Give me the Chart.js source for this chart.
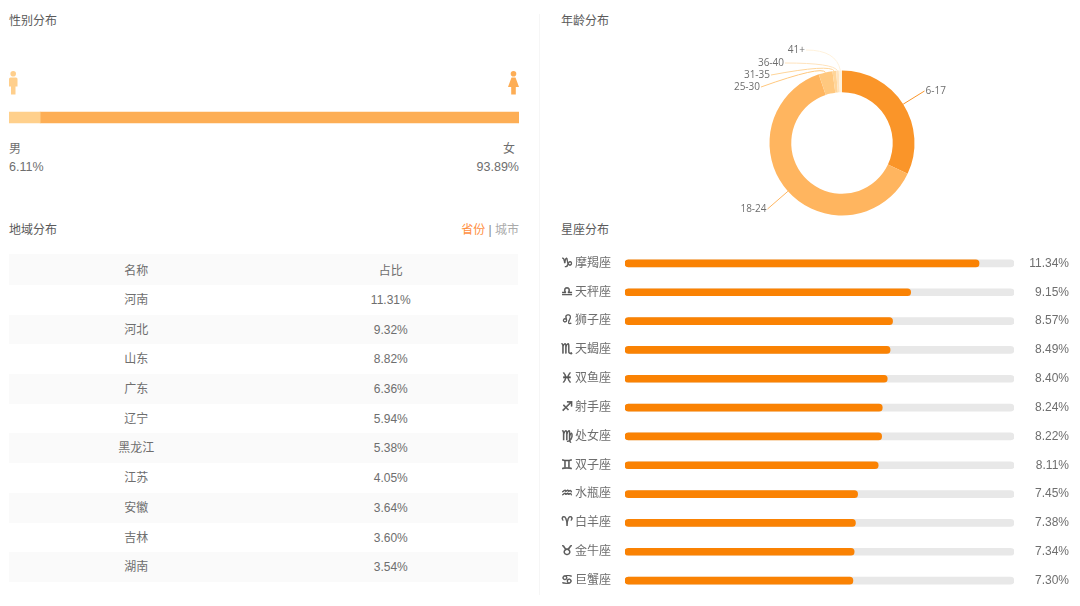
<!DOCTYPE html>
<html>
<head>
<meta charset="utf-8">
<script src="https://cdn.jsdelivr.net/npm/chart.js@4"></script>
<style>
  html, body { margin: 0; padding: 0; background: #fff; }
  body { width: 1080px; height: 606px; position: relative; overflow: hidden; color: #6e6e6e;
    font: 12px "Liberation Sans", "Noto Sans CJK SC", sans-serif; }
  .abs { position: absolute; }
  .title { color: #5a5a5a; line-height: 16px; }
  canvas { position: absolute; }
  #divider { left: 539px; top: 14px; width: 1px; height: 581px; background: #f6f6f6; }
  #regionTable { left: 9px; top: 254px; width: 509px; }
  .row { display: flex; height: 29.7px; line-height: 31.7px; text-align: center; }
  .row:nth-child(odd) { background: #fafafa; }
  .row:first-child { height: 31px; line-height: 34px; }
  .row span { width: 254.5px; }
</style>
</head>
<body>
<div class="abs" id="divider"></div>

<div class="abs title" style="left:9px;top:13px">性别分布</div>
<svg class="abs" style="left:9px;top:71px" width="9" height="24" viewBox="0 0 9 24">
  <circle cx="4.2" cy="2.8" r="2.8" fill="#ffcf8c"/>
  <path d="M0 8Q0 6.5 1.5 6.5H7Q8.5 6.5 8.5 8V15.5H6.5V23.5H2V15.5H0Z" fill="#ffcf8c"/>
</svg>
<svg class="abs" style="left:508px;top:71px" width="11" height="24" viewBox="0 0 11 24">
  <circle cx="5.5" cy="2.8" r="2.8" fill="#fdad55"/>
  <path d="M3.5 6.5H7.5L11 16H7.8V23.5H3.2V16H0Z" fill="#fdad55"/>
</svg>
<canvas id="genderChart" style="left:9px;top:106px" width="510" height="23"></canvas>
<div class="abs" style="left:9px;top:141px;line-height:16px">男</div>
<div class="abs" style="left:9px;top:159px;line-height:16px;font-size:12.5px" id="maleShare"></div>
<div class="abs" style="right:565px;top:141px;line-height:16px">女</div>
<div class="abs" style="right:561px;top:159px;line-height:16px;font-size:12.5px" id="femaleShare"></div>

<div class="abs title" style="left:561px;top:13px">年龄分布</div>
<canvas id="ageChart" style="left:701.5px;top:30px" width="280" height="226"></canvas>

<div class="abs title" style="left:9px;top:222px">地域分布</div>
<div class="abs" style="right:561px;top:222px;line-height:16px"><span style="color:#ff8f3f">省份</span>&nbsp;<span style="color:#888">|</span>&nbsp;<span style="color:#aaa">城市</span></div>
<div class="abs" id="regionTable"></div>

<div class="abs title" style="left:561px;top:222px">星座分布</div>
<canvas id="signChart" style="left:555px;top:248.5px" width="514" height="346"></canvas>

<script>
const genderLabels = ["男", "女"];
const genderValues = [6.11, 93.89];

const ageLabels = ["6-17", "18-24", "25-30", "31-35", "36-40", "41+"];
const ageValues = [32.0, 62.8, 3.1, 0.8, 0.6, 0.7];

const regionNames = ["河南", "河北", "山东", "广东", "辽宁", "黑龙江", "江苏", "安徽", "吉林", "湖南"];
const regionValues = [11.31, 9.32, 8.82, 6.36, 5.94, 5.38, 4.05, 3.64, 3.60, 3.54];

const signNames = ["摩羯座", "天秤座", "狮子座", "天蝎座", "双鱼座", "射手座",
  "处女座", "双子座", "水瓶座", "白羊座", "金牛座", "巨蟹座"];
const signIcons = ["♑", "♎", "♌", "♏", "♓", "♐", "♍", "♊", "♒", "♈", "♉", "♋"];
const signValues = [11.34, 9.15, 8.57, 8.49, 8.40, 8.24, 8.22, 8.11, 7.45, 7.38, 7.34, 7.30];
const signMax = 12.46;

const pct = (v) => v.toFixed(2) + "%";
const FONT = '"Liberation Sans", "Noto Sans CJK SC", sans-serif';
const TEXT = "#6e6e6e";

Chart.defaults.animation = false;
Chart.defaults.responsive = false;
Chart.defaults.plugins.legend.display = false;
Chart.defaults.plugins.tooltip.enabled = false;
Chart.defaults.font.family = FONT;
Chart.defaults.color = TEXT;

document.getElementById("maleShare").textContent = pct(genderValues[0]);
document.getElementById("femaleShare").textContent = pct(genderValues[1]);

// table is plain html, same look as the source page
const regionTable = document.getElementById("regionTable");
const addRow = (a, b) => {
  const row = document.createElement("div");
  row.className = "row";
  row.innerHTML = `<span>${a}</span><span>${b}</span>`;
  regionTable.appendChild(row);
};
addRow("名称", "占比");
regionNames.forEach((name, i) => addRow(name, pct(regionValues[i])));

new Chart(document.getElementById("genderChart"), {
  type: "bar",
  data: {
    labels: ["性别"],
    datasets: [
      { label: genderLabels[0], data: [genderValues[0]], backgroundColor: "#ffd08c", barThickness: 11 },
      { label: genderLabels[1], data: [genderValues[1]], backgroundColor: "#fdae55", barThickness: 11 }
    ]
  },
  options: {
    indexAxis: "y",
    layout: { padding: 0 },
    scales: {
      x: { display: false, stacked: true, min: 0, max: 100 },
      y: { display: false, stacked: true }
    }
  }
});

const ageColors = ["#fa9529", "#ffb55f", "#ffc87f", "#ffd599", "#ffe3bd", "#fff2dc"];
// where each label sits, in canvas px: [x of line end, y, text side]
const ageAnchors = [
  [222.5, 61, "left"], [65.5, 179, "right"], [59, 57, "right"],
  [69, 45, "right"], [83, 33, "right"], [104, 20, "right"]
];

const ageLabelPlugin = {
  id: "ageLabels",
  afterDatasetsDraw(chart) {
    const { ctx } = chart;
    chart.getDatasetMeta(0).data.forEach((arc, i) => {
      const mid = (arc.startAngle + arc.endAngle) / 2;
      const sx = arc.x + Math.cos(mid) * arc.outerRadius;
      const sy = arc.y + Math.sin(mid) * arc.outerRadius;
      const [ax, ay, side] = ageAnchors[i];
      ctx.save();
      ctx.strokeStyle = ageColors[i];
      ctx.lineWidth = 1;
      ctx.beginPath();
      ctx.moveTo(sx, sy);
      // top labels bend over the ring, the two big slices go straight
      if (i >= 2) ctx.quadraticCurveTo(sx - 4, Math.min(sy - 7, ay), ax, ay);
      else ctx.lineTo(ax, ay);
      ctx.stroke();
      ctx.fillStyle = TEXT;
      ctx.font = '10px "Open Sans", sans-serif';
      ctx.textBaseline = "middle";
      ctx.textAlign = side;
      ctx.fillText(ageLabels[i], ax + (side === "left" ? 1 : -1), ay);
      ctx.restore();
    });
  }
};

new Chart(document.getElementById("ageChart"), {
  type: "doughnut",
  data: {
    labels: ageLabels,
    datasets: [{ data: ageValues, backgroundColor: ageColors, borderWidth: 0 }]
  },
  options: {
    cutout: "70%",
    radius: 72.5,
    layout: { padding: 0 }
  },
  plugins: [ageLabelPlugin]
});

// zodiac glyphs in front of the category ticks
const signIconPlugin = {
  id: "signIcons",
  afterDraw(chart) {
    const { ctx } = chart;
    const yScale = chart.scales.y;
    ctx.save();
    ctx.font = 'bold 13px "DejaVu Sans"';
    ctx.fillStyle = "#555";
    ctx.strokeStyle = "#555";
    ctx.lineWidth = 0.5;
    ctx.textAlign = "center";
    ctx.textBaseline = "middle";
    signIcons.forEach((icon, i) => {
      const text = icon + "\uFE0E";
      ctx.fillText(text, 12, yScale.getPixelForTick(i));
      ctx.strokeText(text, 12, yScale.getPixelForTick(i));
    });
    ctx.restore();
  }
};

new Chart(document.getElementById("signChart"), {
  type: "bar",
  data: {
    labels: signNames,
    datasets: [
      {
        data: signValues,
        backgroundColor: "#fa8203",
        barThickness: 7,
        borderRadius: 4,
        borderSkipped: false,
        grouped: false,
        yAxisID: "y"
      },
      {
        data: signNames.map(() => signMax),
        backgroundColor: "#e8e8e8",
        barThickness: 7,
        borderRadius: 4,
        borderSkipped: false,
        grouped: false,
        yAxisID: "y"
      }
    ]
  },
  options: {
    indexAxis: "y",
    layout: { padding: 0 },
    scales: {
      x: { display: false, min: 0, max: signMax },
      y: {
        position: "left",
        border: { display: false },
        grid: { display: false, drawTicks: false },
        ticks: { padding: 14, font: { size: 12 }, color: TEXT, autoSkip: false },
        afterFit: (scale) => { scale.width = 70; scale.paddingTop = 0; scale.paddingBottom = 0; }
      },
      y2: {
        type: "category",
        position: "right",
        labels: signValues.map(pct),
        border: { display: false },
        grid: { display: false, drawTicks: false },
        ticks: { padding: 15, crossAlign: "far", font: { size: 12 }, color: TEXT, autoSkip: false },
        afterFit: (scale) => { scale.width = 55; scale.paddingTop = 0; scale.paddingBottom = 0; }
      }
    }
  },
  plugins: [signIconPlugin]
});
</script>
</body>
</html>
